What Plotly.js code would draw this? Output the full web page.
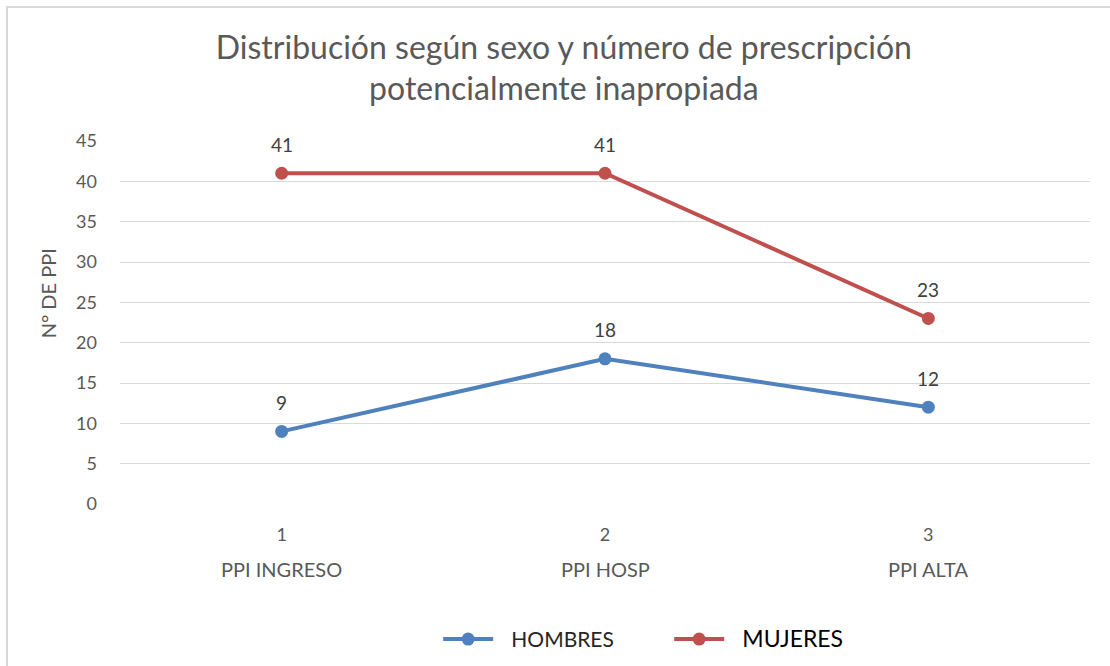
<!DOCTYPE html>
<html>
<head>
<meta charset="utf-8">
<script src="https://cdn.plot.ly/plotly-3.0.1.min.js"></script>
<style>
  html, body { margin: 0; padding: 0; background: #fff; }
  #chart { width: 1110px; height: 666px; }
</style>
</head>
<body>
<div id="chart"></div>
<script>
const positions = [1, 2, 3];
const categories = ['PPI INGRESO', 'PPI HOSP', 'PPI ALTA'];
const hombres = [9, 18, 12];
const mujeres = [41, 41, 23];
const seriesNames = ['HOMBRES', 'MUJERES'];
const yTicks = [0, 5, 10, 15, 20, 25, 30, 35, 40, 45];
const titleText = 'Distribución según sexo y número de prescripción<br>potencialmente inapropiada';
const yTitle = 'N° DE PPI';

const FONT = 'Lato, "Open Sans", sans-serif';
const colors = ['#4F81BD', '#C0504D'];

const traces = [
  {
    x: positions, y: hombres,
    name: '\u2002\u2009' + seriesNames[0],
    type: 'scatter', mode: 'lines+markers',
    line: { color: colors[0], width: 4 },
    marker: { color: colors[0], size: 13 },
    cliponaxis: false
  },
  {
    x: positions, y: mujeres,
    name: '\u2002\u2009<span style="font-size:23px;color:#000000">' + seriesNames[1] + '</span>',
    type: 'scatter', mode: 'lines+markers',
    line: { color: colors[1], width: 4 },
    marker: { color: colors[1], size: 13 },
    cliponaxis: false
  }
];

const catAnnotations = categories.map((c, i) => ({
  x: positions[i], xref: 'x', y: -0.18, yref: 'paper',
  yanchor: 'middle', xanchor: 'center', showarrow: false,
  text: c, font: { family: FONT, size: 20, color: '#595959' }
}));

const labelAnnotations = [];
[hombres, mujeres].forEach(series => {
  series.forEach((v, i) => {
    labelAnnotations.push({
      x: positions[i], y: v, xref: 'x', yref: 'y',
      text: String(v), showarrow: false,
      xanchor: 'center', yanchor: 'middle', yshift: 29,
      font: { family: FONT, size: 19, color: '#404040' }
    });
  });
});

const yTitleAnnotation = {
  x: -0.074, xref: 'paper', y: 0.581, yref: 'paper',
  text: yTitle, textangle: -90, showarrow: false,
  xanchor: 'center', yanchor: 'middle',
  font: { family: FONT, size: 20, color: '#595959' }
};

const layout = {
  width: 1110, height: 666,
  margin: { l: 120, r: 20, t: 141, b: 162, autoexpand: false },
  paper_bgcolor: '#fff', plot_bgcolor: '#fff',
  font: { family: FONT, color: '#595959' },
  title: {
    text: titleText,
    font: { family: FONT, size: 32, color: '#595959' },
    x: 0.508, xref: 'container', xanchor: 'center',
    y: 0.912, yref: 'container', yanchor: 'top'
  },
  xaxis: {
    range: [0.5, 3.5],
    tickvals: positions, ticktext: positions.map(String),
    showgrid: false, zeroline: false, showline: false, ticks: '',
    ticklabelstandoff: 18, automargin: false,
    tickfont: { family: FONT, size: 18, color: '#595959' }
  },
  yaxis: {
    range: [0, 45],
    tickvals: yTicks, ticktext: yTicks.map(String),
    showgrid: true, gridcolor: '#d9d9d9', gridwidth: 1,
    zeroline: false, showline: false, ticks: '',
    ticklabelstandoff: 22, automargin: false,
    tickfont: { family: FONT, size: 18, color: '#595959' }
  },
  showlegend: true,
  legend: {
    orientation: 'h',
    x: 0.328, xanchor: 'left', xref: 'paper',
    y: -0.373, yanchor: 'middle',
    font: { family: FONT, size: 21, color: '#262626' },
    entrywidth: 166, entrywidthmode: 'pixels',
    itemwidth: 50
  },
  annotations: catAnnotations.concat(labelAnnotations, [yTitleAnnotation]),
  shapes: [{
    type: 'rect', xref: 'paper', yref: 'paper',
    x0: -0.1165, x1: 1.03, y0: -0.5, y1: 1.369,
    line: { color: '#d9d9d9', width: 2 }, fillcolor: 'rgba(0,0,0,0)',
    layer: 'below'
  }]
};

Plotly.newPlot('chart', traces, layout, { displayModeBar: false, staticPlot: true });
</script>
</body>
</html>
